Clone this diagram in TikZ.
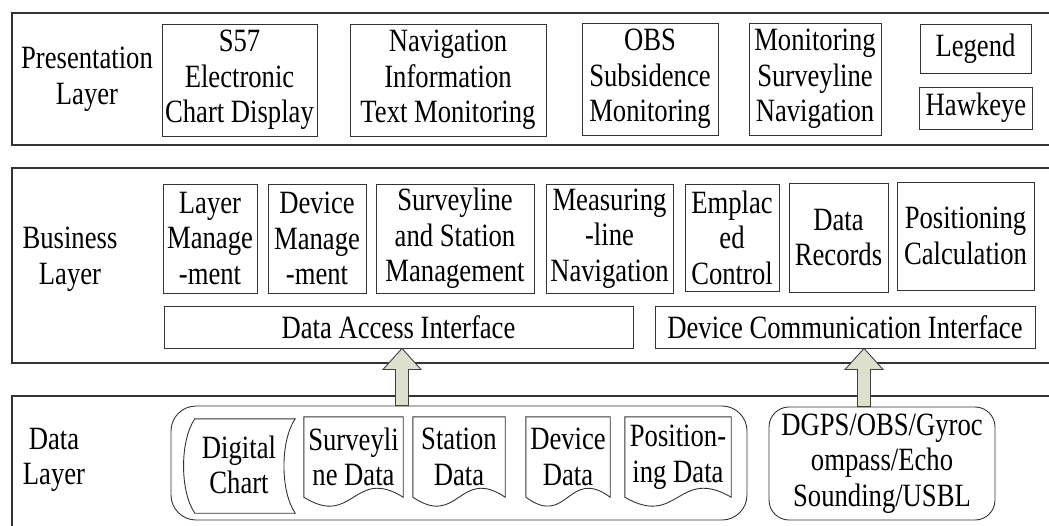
\documentclass[tikz,border=0pt]{standalone}
\usepackage{fontspec}
\setmainfont{Liberation Serif}[FakeStretch=0.82]
\usetikzlibrary{calc}
\definecolor{arrowfill}{RGB}{220,224,204}

% document symbol: straight top and sides, wavy bottom edge
\newcommand\docoutline[1]{%
  \draw[docline] let \p1=(#1.south west), \p2=(#1.south east) in
    (#1.north west) -- (\p1)
    .. controls ({(\x1+\x2)/2},{\y1-31pt}) and ({(\x1+\x2)/2},{\y2+31pt}) .. (\p2)
    -- (#1.north east) -- cycle;}

% stored-data symbol: both side edges bowed to the left
\newcommand\storedoutline[1]{%
  \draw[docline] (#1.north west)
    .. controls ($(#1.north west)+(-15,22)$) and ($(#1.south west)+(-15,-22)$) .. (#1.south west)
    -- (#1.south east)
    .. controls ($(#1.south east)+(-15,-22)$) and ($(#1.north east)+(-15,22)$) .. (#1.north east) -- cycle;}

% wide upward block arrow from #1 (foot) to #2 (tip)
\newcommand\blockarrow[2]{%
  \draw[blockarrow] let \p1=(#1), \p2=(#2) in
    (\x1-6.5pt,\y1) -- (\x1-6.5pt,\y2-21pt) -- (\x1-19pt,\y2-21pt) -- (\x1,\y2)
    -- (\x1+19pt,\y2-21pt) -- (\x1+6.5pt,\y2-21pt) -- (\x1+6.5pt,\y1) -- cycle;}

\begin{document}
\begin{tikzpicture}[x=1pt,y=-1pt,
  every node/.style={font=\fontsize{32.5}{35.5}\selectfont, align=center, inner sep=0pt},
  layerbox/.style={draw=black!80, line width=1.2pt, rectangle},
  box/.style={draw=black!80, line width=0.9pt, rectangle},
  rbox/.style={box, rounded corners=25pt},
  docline/.style={draw=black!80, line width=0.9pt},
  blockarrow/.style={draw=black!75, line width=0.9pt, fill=arrowfill}]

\useasboundingbox (0,0) rectangle (1049,525);
\clip (0,0) rectangle (1049,525);

% ---------------- layers ----------------
\node[layerbox, minimum width=1040, minimum height=132] (pres) at (532,79) {};
\node[layerbox, minimum width=1040, minimum height=195] (bus)  at (532,265.5) {};
\node[layerbox, minimum width=1040, minimum height=140] (data) at (532,466) {};

\node (presl) at (87,79)  {Presentation\\Layer};
\node (busl)  at (70,259) {Business\\Layer};
\node (datal) at (54,460) {Data\\Layer};

% ---------------- presentation layer ----------------
\node[box, minimum width=155, minimum height=112] (s57) at (239.5,80) {S57\\Electronic\\Chart Display};
\node[box, minimum width=196, minimum height=112] (nav) at (448,80) {Navigation\\Information\\Text Monitoring};
\node[box, minimum width=136, minimum height=112] (obs) at (650,79) {OBS\\Subsidence\\Monitoring};
\node[box, minimum width=132, minimum height=112] (mon) at (815,79) {Monitoring\\Surveyline\\Navigation};
\node[box, minimum width=111, minimum height=49]  (leg) at (975.5,48.5) {Legend};
\node[box, minimum width=113, minimum height=42]  (hawk) at (976,108) {Hawkeye};

% ---------------- business layer ----------------
\node[box, minimum width=94,  minimum height=109] (lm) at (210,238.5) {Layer\\Manage\\-ment};
\node[box, minimum width=98,  minimum height=109] (dm) at (317,238.5) {Device\\Manage\\-ment};
\node[box, minimum width=158, minimum height=109] (ss) at (455,238.5) {Surveyline\\and Station\\Management};
\node[box, minimum width=127, minimum height=109] (ml) at (609.5,238.5) {Measuring\\-line\\Navigation};
\node[box, minimum width=94,  minimum height=107] (ec) at (732,237.5) {Emplac\\ed\\Control};
\node[box, minimum width=99,  minimum height=109] (dr) at (838.5,237.5) {Data\\Records};
\node[box, minimum width=137, minimum height=108] (pc) at (965.5,236) {Positioning\\Calculation};
\node[box, minimum width=469, minimum height=42] (dai) at (398.5,327) {Data Access Interface};
\node[box, minimum width=380, minimum height=42] (dci) at (845,327) {Device Communication Interface};

% ---------------- data layer ----------------
\node[rbox, minimum width=576, minimum height=114] (store) at (459,463) {};
\node[rbox, rounded corners=20pt, minimum width=226, minimum height=113] (dev) at (882,463.5)
  {DGPS/OBS/Gyroc\\ompass/Echo\\Sounding/USBL};

\node[minimum width=100, minimum height=94] (dc) at (245,466) {};
\storedoutline{dc}
\node (dctext) at (239,465) {Digital\\Chart};

\node[minimum width=99,  minimum height=80] (sd) at (353.5,457) {Surveyli\\ne Data};
\node[minimum width=92,  minimum height=80] (st) at (459,457)   {Station\\Data};
\node[minimum width=84,  minimum height=80] (dd) at (568,457)   {Device\\Data};
\node[minimum width=106, minimum height=80] (pd) at (678,457)   {Position-\\ing Data};
\docoutline{sd}
\docoutline{st}
\docoutline{dd}
\docoutline{pd}

% ---------------- connectors ----------------
\coordinate (la) at (402,0);
\coordinate (ra) at (864,0);
\blockarrow{la |- store.north}{la |- dai.south}
\blockarrow{ra |- dev.north}{ra |- dci.south}

\end{tikzpicture}
\end{document}
